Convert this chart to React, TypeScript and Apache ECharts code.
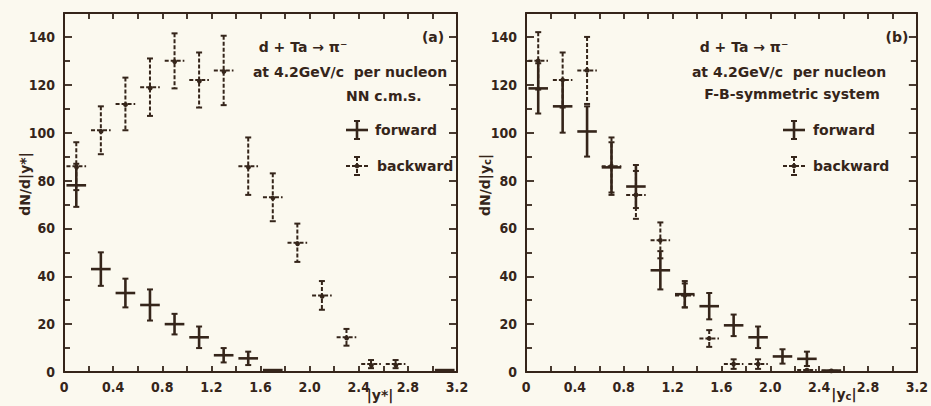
import React, { useEffect, useRef } from "react";
import * as echarts from "echarts";

// ---------- data ----------
// (a) NN c.m.s.
const aFwdX = [0.1, 0.3, 0.5, 0.7, 0.9, 1.1, 1.3, 1.5, 1.7, 3.1];
const aFwdY = [78, 43, 33, 28, 20, 14.5, 7, 5.7, 0.8, 0.8];
const aFwdE = [9, 7, 6, 6.5, 4.3, 4.5, 3, 2.8, 0, 0];

const aBwdX = [0.1, 0.3, 0.5, 0.7, 0.9, 1.1, 1.3, 1.5, 1.7, 1.9, 2.1, 2.3, 2.5, 2.7];
const aBwdY = [86, 101, 112, 119, 130, 122, 126, 86, 73, 54, 32, 14.5, 3.3, 3.3];
const aBwdE = [10, 10, 11, 12, 11.5, 11.5, 14.5, 12, 10, 8, 6, 3.5, 1.7, 1.7];

// (b) F-B-symmetric system
const bFwdX = [0.1, 0.3, 0.5, 0.7, 0.9, 1.1, 1.3, 1.5, 1.7, 1.9, 2.1, 2.3, 2.5];
const bFwdY = [118.5, 111, 100.5, 85.5, 77.5, 42.5, 32.5, 27.5, 19.5, 14.5, 6.5, 5.5, 0.6];
const bFwdE = [10.5, 11, 10.5, 10.5, 9, 8, 5.5, 5.5, 4.5, 4.5, 3, 3, 0];

const bBwdX = [0.1, 0.3, 0.5, 0.7, 0.9, 1.1, 1.3, 1.5, 1.7, 1.9, 2.3, 2.5];
const bBwdY = [130, 122, 126, 86, 74, 55, 32, 14, 3.3, 3.3, 0.8, 0.5];
const bBwdE = [12, 11.5, 14, 12, 10, 7.5, 5, 3.5, 2, 2, 0, 0];

const BIN_HALF = 0.08;
const X_MIN = 0, X_MAX = 3.2, X_STEP = 0.4;
const Y_MIN = 0, Y_MAX = 150, Y_STEP = 20;

const INK = "#35251a";
const BG = "#fbf9ef";
const FONT = "DejaVu Sans";
const TICK_FONT = "'DejaVu Sans Condensed', 'DejaVu Sans', sans-serif";

function rows(xs: number[], ys: number[], es: number[]) {
  return xs.map((x, i) => [x, ys[i], es[i]]);
}

function makeRender(dashed: boolean) {
  return (params: any, api: any) => {
    const x = api.value(0);
    const y = api.value(1);
    const e = api.value(2);
    const lw = dashed ? 2 : 2.6;
    const dash = dashed ? [4, 2] : undefined;
    const c = api.coord([x, y]);
    const l = api.coord([x - BIN_HALF, y]);
    const r = api.coord([x + BIN_HALF, y]);
    const children: any[] = [
      {
        type: "line",
        shape: { x1: l[0], y1: c[1], x2: r[0], y2: c[1] },
        style: { stroke: INK, lineWidth: lw, lineDash: dash },
      },
    ];
    if (e > 0) {
      const t = api.coord([x, y + e]);
      const b = api.coord([x, Math.max(0, y - e)]);
      children.push(
        {
          type: "line",
          shape: { x1: c[0], y1: t[1], x2: c[0], y2: b[1] },
          style: { stroke: INK, lineWidth: lw, lineDash: dash },
        },
        {
          type: "line",
          shape: { x1: c[0] - 3, y1: t[1], x2: c[0] + 3, y2: t[1] },
          style: { stroke: INK, lineWidth: 2 },
        },
        {
          type: "line",
          shape: { x1: c[0] - 3, y1: b[1], x2: c[0] + 3, y2: b[1] },
          style: { stroke: INK, lineWidth: 2 },
        }
      );
    }
    if (dashed) {
      children.push({
        type: "circle",
        shape: { cx: c[0], cy: c[1], r: 2.4 },
        style: { fill: INK },
      });
    }
    return { type: "group", children };
  };
}

function xAxes(gridIndex: number) {
  const common = {
    type: "value",
    gridIndex,
    min: X_MIN,
    max: X_MAX,
    interval: X_STEP,
    splitLine: { show: false },
    axisLine: { show: true, onZero: false, lineStyle: { color: INK, width: 2 } },
    axisTick: { show: true, inside: true, length: 6, lineStyle: { color: INK, width: 1.8 } },
    minorTick: { show: true, splitNumber: 2, length: 6, lineStyle: { color: INK, width: 1.8 } },
  };
  return [
    {
      ...common,
      position: "bottom",
      axisLabel: {
        show: true,
        margin: 8,
        color: INK,
        fontFamily: TICK_FONT,
        fontWeight: "bold",
        fontSize: 14,
        formatter: (v: number) => (v === 0 ? "0" : v.toFixed(1)),
      },
    },
    { ...common, position: "top", axisLabel: { show: false } },
  ];
}

function yAxes(gridIndex: number) {
  const common = {
    type: "value",
    gridIndex,
    min: Y_MIN,
    max: Y_MAX,
    interval: Y_STEP,
    splitLine: { show: false },
    axisLine: { show: true, onZero: false, lineStyle: { color: INK, width: 2 } },
    axisTick: { show: true, inside: true, length: 8, lineStyle: { color: INK, width: 1.8 } },
    minorTick: { show: true, splitNumber: 2, length: 6, lineStyle: { color: INK, width: 1.8 } },
  };
  return [
    {
      ...common,
      position: "left",
      axisLabel: {
        show: true,
        margin: 9,
        color: INK,
        fontFamily: TICK_FONT,
        fontWeight: "bold",
        fontSize: 14,
        showMaxLabel: false,
      },
    },
    { ...common, position: "right", axisLabel: { show: false } },
  ];
}

function txt(x: number, y: number, text: string, align: string = "left", extra: any = {}) {
  return {
    type: "text",
    x,
    y,
    style: {
      text,
      fill: INK,
      font: `bold 14px ${FONT}`,
      align,
      verticalAlign: "middle",
      ...extra,
    },
  };
}

function legendSymbol(cx: number, cy: number, dashed: boolean) {
  const lw = dashed ? 2 : 2.6;
  const dash = dashed ? [4, 2] : undefined;
  const items: any[] = [
    { type: "line", shape: { x1: cx - 11, y1: cy, x2: cx + 11, y2: cy }, style: { stroke: INK, lineWidth: lw, lineDash: dash } },
    { type: "line", shape: { x1: cx, y1: cy - 9, x2: cx, y2: cy + 9 }, style: { stroke: INK, lineWidth: lw, lineDash: dash } },
    { type: "line", shape: { x1: cx - 3, y1: cy - 9, x2: cx + 3, y2: cy - 9 }, style: { stroke: INK, lineWidth: 2 } },
    { type: "line", shape: { x1: cx - 3, y1: cy + 9, x2: cx + 3, y2: cy + 9 }, style: { stroke: INK, lineWidth: 2 } },
  ];
  if (dashed) items.push({ type: "circle", shape: { cx, cy, r: 2.4 }, style: { fill: INK } });
  return items;
}

export default function App() {
  const ref = useRef<HTMLDivElement>(null);

  useEffect(() => {
    if (!ref.current) return;
    const chart = echarts.init(ref.current, undefined, { renderer: "svg" });

    const series: any[] = [
      { name: "forward (a)", data: rows(aFwdX, aFwdY, aFwdE), dashed: false, xi: 0, yi: 0 },
      { name: "backward (a)", data: rows(aBwdX, aBwdY, aBwdE), dashed: true, xi: 0, yi: 0 },
      { name: "forward (b)", data: rows(bFwdX, bFwdY, bFwdE), dashed: false, xi: 2, yi: 2 },
      { name: "backward (b)", data: rows(bBwdX, bBwdY, bBwdE), dashed: true, xi: 2, yi: 2 },
    ].map((s) => ({
      type: "custom",
      name: s.name,
      xAxisIndex: s.xi,
      yAxisIndex: s.yi,
      data: s.data,
      encode: { x: 0, y: 1 },
      clip: false,
      renderItem: makeRender(s.dashed),
    }));

    const subRich = { s: { fontSize: 10, fontWeight: "bold", fontFamily: FONT, fill: INK, verticalAlign: "bottom" } };

    const graphics: any[] = [
      // panel (a)
      txt(433, 37, "(a)", "center"),
      txt(303, 47, "d + Ta → π⁻", "center"),
      txt(350, 72, "at 4.2GeV/c  per nucleon", "center"),
      txt(346, 96, "NN c.m.s."),
      ...legendSymbol(357, 130, false),
      txt(375, 130, "forward"),
      ...legendSymbol(357, 166, true),
      txt(377, 166, "backward"),
      {
        type: "text",
        x: 25,
        y: 184,
        rotation: Math.PI / 2,
        style: { text: "dN/d|y*|", fill: INK, font: `bold 14px ${FONT}`, align: "center", verticalAlign: "middle" },
      },
      txt(380, 395, "|y*|", "center"),
      // panel (b)
      txt(897, 37, "(b)", "center"),
      txt(744, 47, "d + Ta → π⁻", "center"),
      txt(789, 72, "at 4.2GeV/c  per nucleon", "center"),
      txt(792, 94, "F-B-symmetric system", "center"),
      ...legendSymbol(794, 130, false),
      txt(813, 130, "forward"),
      ...legendSymbol(794, 166, true),
      txt(813, 166, "backward"),
      {
        type: "text",
        x: 485,
        y: 185,
        rotation: Math.PI / 2,
        style: {
          text: "dN/d|y{s|c}|",
          fill: INK,
          font: `bold 14px ${FONT}`,
          align: "center",
          verticalAlign: "middle",
          rich: subRich,
        },
      },
      {
        type: "text",
        x: 844,
        y: 394,
        style: {
          text: "|y{s|c}|",
          fill: INK,
          font: `bold 14px ${FONT}`,
          align: "center",
          verticalAlign: "middle",
          rich: subRich,
        },
      },
    ];

    chart.setOption({
      animation: false,
      backgroundColor: BG,
      textStyle: { fontFamily: FONT },
      grid: [
        { left: 64, top: 13, width: 393, height: 359 },
        { left: 526, top: 13, width: 394, height: 359 },
      ],
      xAxis: [...xAxes(0), ...xAxes(1)],
      yAxis: [...yAxes(0), ...yAxes(1)],
      series,
      graphic: graphics,
    });

    return () => chart.dispose();
  }, []);

  return (
    <div
      ref={ref}
      style={{ position: "fixed", left: 0, top: 0, width: 931, height: 406 }}
    />
  );
}
